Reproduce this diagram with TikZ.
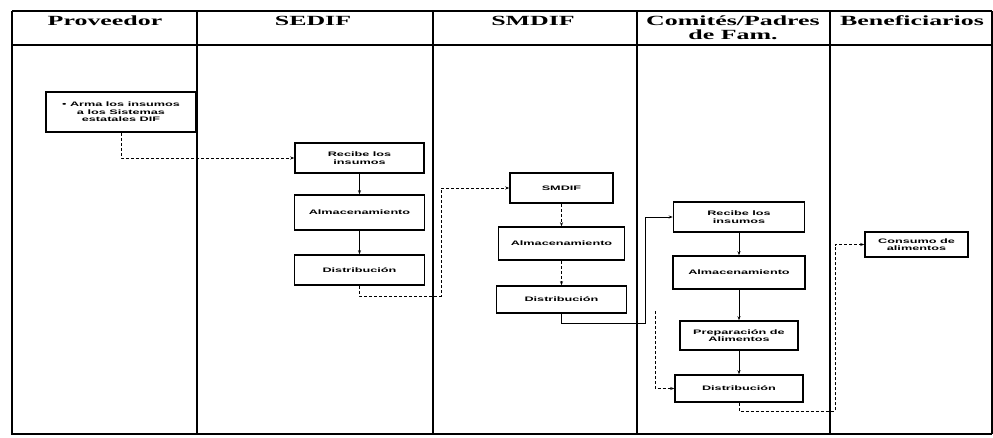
\documentclass[tikz,border=0pt]{standalone}
\usepackage{fontspec}
\setmainfont{Liberation Serif}
\newfontfamily\boxfont{Liberation Sans}
\usetikzlibrary{arrows.meta}
\newcommand{\hd}[1]{\scalebox{1.85}[1]{\bfseries #1}}
\newcommand{\bx}[1]{\scalebox{1.95}[1]{#1}}
\begin{document}
\begin{tikzpicture}[x=1pt,y=-1pt,
  tline/.style={line width=1.4pt},
  hdr/.style={font=\fontsize{14}{15}\selectfont, inner sep=0pt, align=center},
  proc/.style={draw, line width=1.5pt, fill=white, align=center,
    font=\boxfont\bfseries\fontsize{6.5}{7.5}\selectfont, inner sep=1pt},
  link/.style={line width=0.7pt, -{Stealth[length=4pt,width=3pt]}},
  dlink/.style={link, dashed, dash pattern=on 3pt off 2pt}
]
\useasboundingbox (0,0) rectangle (993,437);
% table
\draw[tline] (12,11) -- (992,11);
\draw[tline] (12,45) -- (992,45);
\draw[tline] (12,11) -- (12,434) -- (992,434);
\draw[tline] (197,11) -- (197,434);
\draw[tline] (433,11) -- (433,434);
\draw[tline] (637,11) -- (637,434);
\draw[tline] (830,11) -- (830,434);
\draw[tline] (992,11) -- (992,434);
% headers
\node[hdr] (h1) at (105,21) {\hd{Proveedor}};
\node[hdr] (h2) at (313,21) {\hd{SEDIF}};
\node[hdr] (h3) at (533,21) {\hd{SMDIF}};
\node[hdr] (h4) at (733,28) {\hd{Comités/Padres}\\[-1pt]\hd{de Fam.}};
\node[hdr] (h5) at (912,21) {\hd{Beneficiarios}};
% boxes
\node[proc, minimum width=150, minimum height=40] (prov) at (121,112) {\bx{• Arma los insumos}\\\bx{a los Sistemas}\\\bx{estatales DIF}};
\node[proc, minimum width=129, minimum height=30] (sed1) at (359.5,158) {\bx{Recibe los}\\\bx{insumos}};
\node[proc, minimum width=130, minimum height=35] (sed2) at (359.5,212.5) {\bx{Almacenamiento}};
\node[proc, minimum width=130, minimum height=30] (sed3) at (359.5,270) {\bx{Distribución}};
\node[proc, minimum width=103, minimum height=30] (smd1) at (561.5,188) {\bx{SMDIF}};
\node[proc, minimum width=126, minimum height=33] (smd2) at (561.5,243.5) {\bx{Almacenamiento}};
\node[proc, minimum width=130, minimum height=27] (smd3) at (561.5,299.5) {\bx{Distribución}};
\node[proc, minimum width=131, minimum height=30] (com1) at (739,217) {\bx{Recibe los}\\\bx{insumos}};
\node[proc, minimum width=132, minimum height=33] (com2) at (739,272.5) {\bx{Almacenamiento}};
\node[proc, minimum width=118, minimum height=29] (com3) at (739,335.5) {\bx{Preparación de}\\\bx{Alimentos}};
\node[proc, minimum width=128, minimum height=27] (com4) at (739,388.5) {\bx{Distribución}};
\node[proc, minimum width=103, minimum height=25] (ben) at (916.5,244.5) {\bx{Consumo de}\\\bx{alimentos}};
% connector bends
\coordinate (t1) at (441,296);
\coordinate (t2) at (645,323);
\coordinate (t3) at (655,311);
\coordinate (t4) at (835,411);
% connectors
\draw[dlink] (prov.south) |- (sed1.west);
\draw[link] (sed1) -- (sed2);
\draw[link] (sed2) -- (sed3);
\draw[dlink] (sed3.south) |- (t1) |- (smd1.west);
\draw[dlink] (smd1) -- (smd2);
\draw[dlink] (smd2) -- (smd3);
\draw[link] (smd3.south) |- (t2) |- (com1.west);
\draw[link] (com1) -- (com2);
\draw[link] (com2) -- (com3);
\draw[link] (com3) -- (com4);
\draw[dlink] (t3) |- (com4.west);
\draw[dlink] (com4.south) |- (t4) |- (ben.west);
\end{tikzpicture}
\end{document}
